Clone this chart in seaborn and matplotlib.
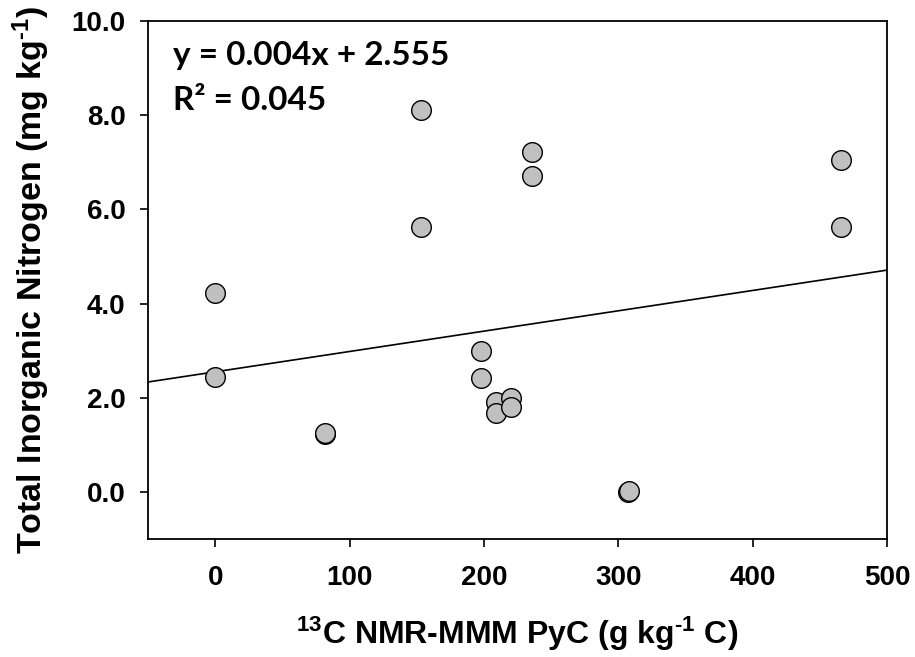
import numpy as np
import pandas as pd
import seaborn as sns
import matplotlib.pyplot as plt

# values
pyc = [0, 0, 82, 82, 153, 153, 198, 198, 209, 209, 220, 220, 236, 236, 307, 308, 466, 466]
tin = [4.23, 2.44, 1.22, 1.25, 8.10, 5.63, 2.99, 2.41, 1.90, 1.67, 1.99, 1.80, 7.21, 6.71, 0.0, 0.01, 7.05, 5.62]

slope = 0.00432
intercept = 2.55
eq_lines = ["y = 0.004x + 2.555", "R² = 0.045"]

x_ticks = [0, 100, 200, 300, 400, 500]
y_ticks = [0, 2, 4, 6, 8, 10]

df = pd.DataFrame({"pyc": pyc, "tin": tin})

sns.set_style("ticks")
plt.rcParams["font.family"] = ["Liberation Sans", "DejaVu Sans"]
plt.rcParams["font.weight"] = "bold"
plt.rcParams["text.color"] = "black"
plt.rcParams["axes.labelcolor"] = "black"
plt.rcParams["xtick.color"] = "black"
plt.rcParams["ytick.color"] = "black"
plt.rcParams["mathtext.fontset"] = "custom"
plt.rcParams["mathtext.rm"] = "Liberation Sans:bold"
plt.rcParams["mathtext.it"] = "Liberation Sans:bold"
plt.rcParams["mathtext.bf"] = "Liberation Sans:bold"
plt.rcParams["mathtext.default"] = "rm"

fig = plt.figure(figsize=(9.15, 6.57), dpi=100)
ax = fig.add_axes([0.1617, 0.1796, 0.8077, 0.7884])

ax.axline((0, intercept), slope=slope, color="black", lw=1.2, zorder=2)
sns.scatterplot(data=df, x="pyc", y="tin", ax=ax, s=200, color="#c0c0c0",
                edgecolor="black", linewidth=1.0, zorder=3, legend=False)

ax.set_xlim(-50, 500)
ax.set_ylim(-1, 10)
ax.set_xticks(x_ticks)
ax.set_yticks(y_ticks)
ax.set_xticklabels([str(t) for t in x_ticks])
ax.set_yticklabels([f"{t:.1f}" for t in y_ticks])
ax.tick_params(axis="both", direction="out", length=6, width=1.2, labelsize=20)
ax.tick_params(axis="x", pad=13)
ax.tick_params(axis="y", pad=10)
for lab in ax.get_xticklabels() + ax.get_yticklabels():
    lab.set_fontweight("bold")
for sp in ax.spines.values():
    sp.set_visible(True)
    sp.set_linewidth(1.3)
    sp.set_color("black")

ax.set_xlabel(r"$^{13}$C NMR-MMM PyC (g kg$^{\text{-}1}$ C)", fontsize=23, fontweight="bold", labelpad=17)
ax.set_ylabel(r"Total Inorganic Nitrogen (mg kg$^{\text{-}1}$)", fontsize=24.5, fontweight="bold", labelpad=14)

ax.text(0.034, 0.915, eq_lines[0], transform=ax.transAxes, fontsize=24,
        fontweight="bold", family=["Lato", "DejaVu Sans"], va="baseline")
ax.text(0.034, 0.828, eq_lines[1], transform=ax.transAxes, fontsize=24,
        fontweight="bold", family=["Lato", "DejaVu Sans"], va="baseline")

fig.savefig("out.png", dpi=100)
